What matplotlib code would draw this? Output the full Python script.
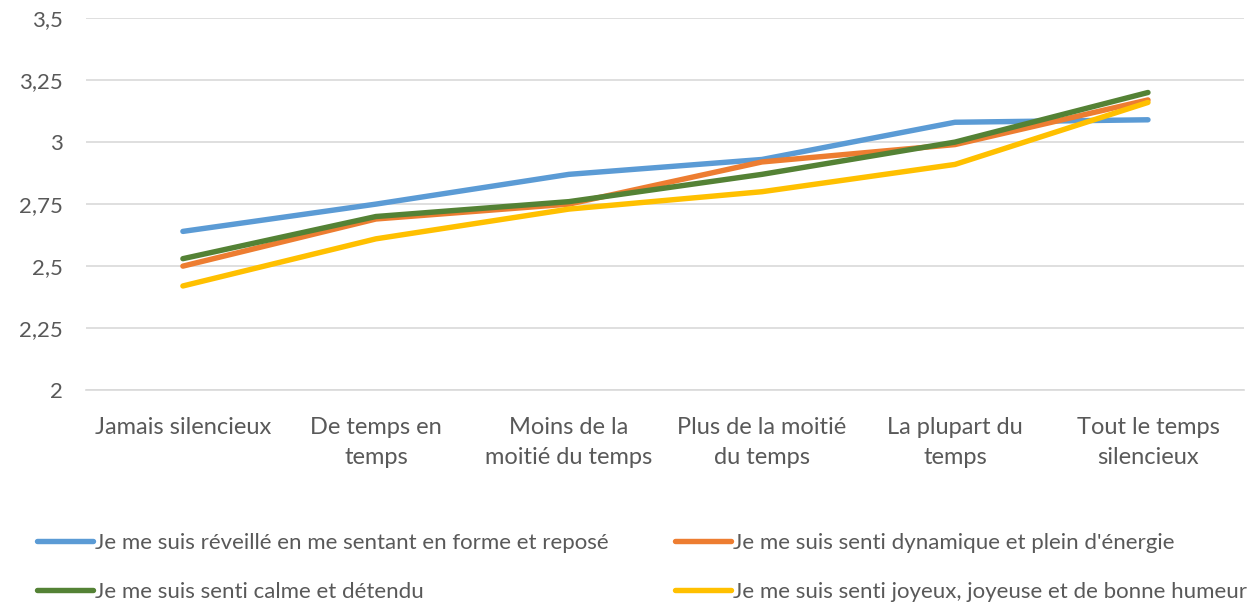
import numpy as np
import matplotlib.pyplot as plt

plt.rcParams['font.family'] = ['Lato', 'DejaVu Sans']

categories = ['Jamais silencieux', 'De temps en\ntemps', 'Moins de la\nmoitié du temps',
              'Plus de la moitié\ndu temps', 'La plupart du\ntemps', 'Tout le temps\nsilencieux']

reveille = [2.64, 2.75, 2.87, 2.93, 3.08, 3.09]
dynamique = [2.50, 2.69, 2.75, 2.92, 2.99, 3.17]
calme = [2.53, 2.70, 2.76, 2.87, 3.00, 3.20]
joyeux = [2.42, 2.61, 2.73, 2.80, 2.91, 3.16]

labels = ["Je me suis réveillé en me sentant en forme et reposé",
          "Je me suis senti dynamique et plein d'énergie",
          "Je me suis senti calme et détendu",
          "Je me suis senti joyeux, joyeuse et de bonne humeur"]
colors = ['#5b9bd5', '#ed7d31', '#548235', '#ffc000']

yticks = [2, 2.25, 2.5, 2.75, 3, 3.25, 3.5]
yticklabels = ['2', '2,25', '2,5', '2,75', '3', '3,25', '3,5']

fig = plt.figure(figsize=(12.52, 6.03), dpi=100)
ax = fig.add_axes([0.069, 0.353, 0.925, 0.617])

x = np.arange(len(categories))
lines = []
for vals, lab, c in zip([reveille, dynamique, calme, joyeux], labels, colors):
    l, = ax.plot(x, vals, color=c, lw=3.9, solid_capstyle='round', solid_joinstyle='round', label=lab)
    lines.append(l)

ax.set_xlim(-0.5, 5.5)
ax.set_ylim(2, 3.5)
ax.set_yticks(yticks)
ax.set_yticklabels(yticklabels)
ax.set_xticks(x)
ax.set_xticklabels(categories, linespacing=1.55)
ax.grid(axis='y', color='#d9d9d9', lw=1.2)
ax.set_axisbelow(True)
for s in ['left', 'right', 'top']:
    ax.spines[s].set_visible(False)
ax.spines['bottom'].set_color('#d9d9d9')
ax.spines['bottom'].set_linewidth(1.2)
ax.tick_params(length=0, labelsize=16, colors='#595959')
ax.tick_params(axis='x', pad=19, labelsize=17)
ax.tick_params(axis='y', pad=17)

order = [0, 2, 1, 3]
fig.legend([lines[i] for i in order], [labels[i] for i in order], ncol=2,
           loc='upper left', bbox_to_anchor=(0.0296, 0.116), frameon=False,
           fontsize=16, labelcolor='#595959', handlelength=2.5, handletextpad=0.1,
           labelspacing=1.3, columnspacing=3.0, borderpad=0, borderaxespad=0)

fig.savefig('out.png', dpi=100)
